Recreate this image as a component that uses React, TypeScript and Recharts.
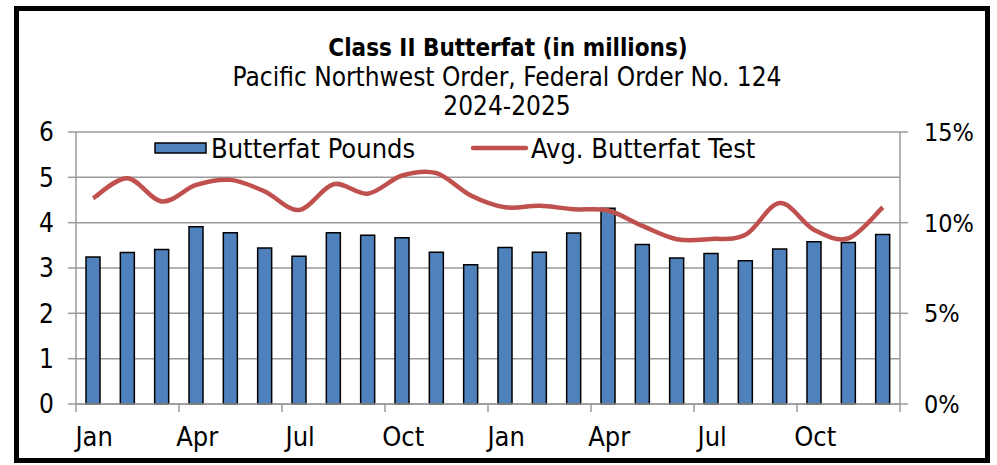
import React from "react";
import { ComposedChart, Bar, Line, XAxis, YAxis, CartesianGrid } from "recharts";

const months = ["Jan","Feb","Mar","Apr","May","Jun","Jul","Aug","Sep","Oct","Nov","Dec","Jan","Feb","Mar","Apr","May","Jun","Jul","Aug","Sep","Oct","Nov","Dec"];
const butterfatPounds = [3.24,3.34,3.41,3.91,3.78,3.44,3.26,3.78,3.72,3.67,3.35,3.07,3.45,3.35,3.77,4.32,3.52,3.22,3.32,3.16,3.42,3.58,3.56,3.74];
const avgButterfatTest = [11.35,12.45,11.17,12.08,12.36,11.72,10.7,12.12,11.6,12.6,12.73,11.5,10.85,10.93,10.74,10.67,9.82,9.09,9.1,9.33,11.08,9.6,9.14,10.85];
const leftTicks = [0,1,2,3,4,5,6];
const rightTicks = [0,5,10,15];
const titleLines = ["Class II Butterfat (in millions)", "Pacific Northwest Order, Federal Order No. 124", "2024-2025"];
const seriesNames = ["Butterfat Pounds", "Avg. Butterfat Test"];

const data = months.map((m, i) => ({ month: m, idx: i, pounds: butterfatPounds[i], test: avgButterfatTest[i] }));

const FONT = "'DejaVu Sans Condensed', 'DejaVu Sans', sans-serif";
const W = 997, H = 465;
const PLOT_LEFT = 76, PLOT_RIGHT = 900, PLOT_TOP = 132, PLOT_BOTTOM = 404;
const STEP = (PLOT_RIGHT - PLOT_LEFT) / months.length;
const GRID = "#9a9a9a";
const BAR_COLOR = "#4F81BD";
const LINE_COLOR = "#C0504D";

// Excel-like smoothed curve (Catmull-Rom as cubic bezier)
const excelCurve = (context: any) => {
  let pts: number[][] = [];
  return {
    areaStart() {},
    areaEnd() {},
    lineStart() { pts = []; },
    point(x: number, y: number) { pts.push([+x, +y]); },
    lineEnd() {
      if (!pts.length) return;
      context.moveTo(pts[0][0], pts[0][1]);
      for (let i = 0; i < pts.length - 1; i++) {
        const p0 = pts[i - 1] || pts[i];
        const p1 = pts[i];
        const p2 = pts[i + 1];
        const p3 = pts[i + 2] || pts[i + 1];
        const c1x = p1[0] + (p2[0] - p0[0]) / 6;
        const c1y = p1[1] + (p2[1] - p0[1]) / 6;
        const c2x = p2[0] - (p3[0] - p1[0]) / 6;
        const c2y = p2[1] - (p3[1] - p1[1]) / 6;
        context.bezierCurveTo(c1x, c1y, c2x, c2y, p2[0], p2[1]);
      }
    },
  };
};

const XTick = (props: any) => {
  const { x, y, payload } = props;
  const i = payload.index;
  const show = i % 3 === 0;
  return (
    <g>
      {show && <line x1={x - STEP / 2} x2={x - STEP / 2} y1={y} y2={y + 8} stroke={GRID} strokeWidth={1.5} />}
      {i === months.length - 1 && <line x1={x + STEP / 2} x2={x + STEP / 2} y1={y} y2={y + 8} stroke={GRID} strokeWidth={1.5} />}
      {show && (
        <text x={x + 1} y={y + 42} textAnchor="middle" fontFamily={FONT} fontSize={27} fill="#000">
          {payload.value}
        </text>
      )}
    </g>
  );
};

const Overlay = () => (
  <svg width={W} height={H} style={{ position: "absolute", left: 0, top: 0, pointerEvents: "none" }}>
    <text x={508} y={56} textAnchor="middle" fontFamily={FONT} fontSize={24} fontWeight="bold" fill="#000">{titleLines[0]}</text>
    <text x={507} y={85.5} textAnchor="middle" fontFamily={FONT} fontSize={26} fill="#000">{titleLines[1]}</text>
    <text x={507} y={114.5} textAnchor="middle" fontFamily={FONT} fontSize={26} fill="#000">{titleLines[2]}</text>
    <rect x={155} y={143} width={51} height={10} fill={BAR_COLOR} stroke="#000" strokeWidth={1.5} />
    <text x={211} y={158} fontFamily={FONT} fontSize={27} fill="#000">{seriesNames[0]}</text>
    <line x1={473} x2={526} y1={148} y2={148} stroke={LINE_COLOR} strokeWidth={4.5} strokeLinecap="round" />
    <text x={531} y={158} fontFamily={FONT} fontSize={27} fill="#000">{seriesNames[1]}</text>
  </svg>
);

export default function App() {
  return (
    <div style={{ position: "absolute", left: 0, top: 0, width: W, height: H, background: "#fff" }}>
      <div style={{ position: "absolute", left: 14, top: 6, width: 966, height: 447, border: "5px solid #000", boxSizing: "content-box" }} />
      <div style={{ position: "absolute", left: 0, top: 0 }}>
        <ComposedChart
          width={W}
          height={H}
          data={data}
          margin={{ top: PLOT_TOP, bottom: H - PLOT_BOTTOM - 40, left: PLOT_LEFT - 60, right: W - PLOT_RIGHT - 80 }}
        >
          <CartesianGrid horizontal vertical={false} stroke={GRID} strokeWidth={1.5} yAxisId="left" />
          <XAxis
            dataKey="month"
            height={40}
            interval={0}
            tickLine={false}
            tickSize={0}
            tickMargin={0}
            axisLine={{ stroke: GRID, strokeWidth: 1.5 }}
            tick={<XTick />}
          />
          <YAxis
            yAxisId="left"
            width={60}
            domain={[0, 6]}
            ticks={leftTicks}
            tickSize={8}
            tickMargin={14}
            axisLine={{ stroke: GRID, strokeWidth: 1.5 }}
            tickLine={{ stroke: GRID, strokeWidth: 1.5 }}
            tick={{ fontFamily: FONT, fontSize: 26, fill: "#000" }}
          />
          <YAxis
            yAxisId="right"
            orientation="right"
            width={80}
            domain={[0, 15]}
            ticks={rightTicks}
            tickFormatter={(v: number) => `${v}%`}
            tickSize={8}
            tickMargin={16}
            axisLine={{ stroke: GRID, strokeWidth: 1.5 }}
            tickLine={{ stroke: GRID, strokeWidth: 1.5 }}
            tick={{ fontFamily: FONT, fontSize: 25, fill: "#000" }}
          />
          <Bar yAxisId="left" dataKey="pounds" name={seriesNames[0]} barSize={14} fill={BAR_COLOR} stroke="#000" strokeWidth={1.5} isAnimationActive={false} />
          <Line yAxisId="right" dataKey="test" name={seriesNames[1]} type={excelCurve as any} stroke={LINE_COLOR} strokeWidth={4.5} dot={false} activeDot={false} isAnimationActive={false} />
        </ComposedChart>
      </div>
      <Overlay />
    </div>
  );
}
